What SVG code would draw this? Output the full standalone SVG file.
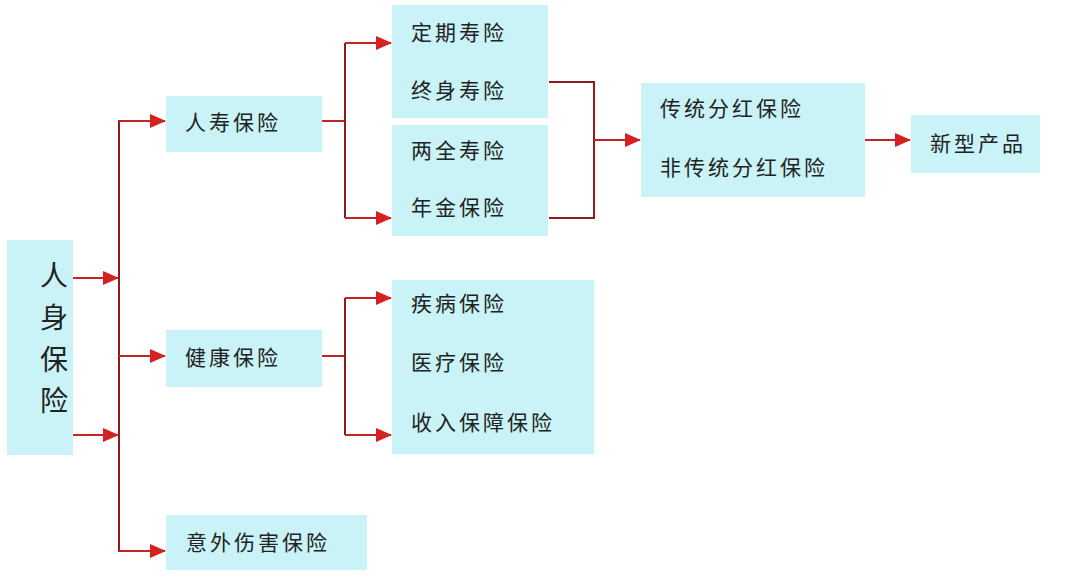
<svg xmlns="http://www.w3.org/2000/svg" width="1080" height="577" viewBox="0 0 1080 577">
<defs>
<style>
.box{fill:#c9f3f7}
.t{font-family:"Noto Sans CJK SC","Noto Sans",sans-serif;font-size:21px;fill:#222;letter-spacing:3px}
.big{font-family:"Noto Sans CJK SC","Noto Sans",sans-serif;font-size:28px;fill:#222}
.ln{fill:none;stroke:#8e1c1c;stroke-width:2}
.ar{fill:none;stroke:#c42424;stroke-width:2}
</style>
<marker id="ah" markerUnits="userSpaceOnUse" markerWidth="16" markerHeight="14" refX="15" refY="7" orient="auto">
<path d="M0,0 L16,7 L0,14 Z" fill="#d42222"/>
</marker>
</defs>
<rect width="1080" height="577" fill="#ffffff"/>
<g id="n-renshen"><rect class="box" x="7" y="240" width="66" height="215"/>
<text class="big" x="54" y="286" text-anchor="middle">人</text>
<text class="big" x="54" y="328" text-anchor="middle">身</text>
<text class="big" x="54" y="370" text-anchor="middle">保</text>
<text class="big" x="54" y="411" text-anchor="middle">险</text></g>
<g id="n-renshou"><rect class="box" x="166" y="96" width="156" height="56"/><text class="t" x="185" y="130">人寿保险</text></g>
<g id="n-jiankang"><rect class="box" x="166" y="330" width="156" height="57"/><text class="t" x="185" y="365">健康保险</text></g>
<g id="n-yiwai"><rect class="box" x="166" y="515" width="201" height="55"/><text class="t" x="186" y="550">意外伤害保险</text></g>
<g id="n-dingqi"><rect class="box" x="392" y="5" width="156" height="113"/><text class="t" x="411" y="40">定期寿险</text><text class="t" x="411" y="98">终身寿险</text></g>
<g id="n-liangquan"><rect class="box" x="392" y="125" width="156" height="111"/><text class="t" x="411" y="158">两全寿险</text><text class="t" x="411" y="215">年金保险</text></g>
<g id="n-fenhong"><rect class="box" x="641" y="83" width="224" height="114"/><text class="t" x="660" y="116">传统分红保险</text><text class="t" x="660" y="175">非传统分红保险</text></g>
<g id="n-xinxing"><rect class="box" x="911" y="115" width="129" height="58"/><text class="t" x="930" y="151">新型产品</text></g>
<g id="n-jibing"><rect class="box" x="392" y="280" width="202" height="174"/><text class="t" x="411" y="311">疾病保险</text><text class="t" x="411" y="370">医疗保险</text><text class="t" x="411" y="430">收入保障保险</text></g>
<g id="connectors">
<path class="ln" d="M119,120 V552"/>
<path class="ar" d="M73,278 H118" marker-end="url(#ah)"/>
<path class="ar" d="M73,435 H118" marker-end="url(#ah)"/>
<path class="ar" d="M119,121 H165" marker-end="url(#ah)"/>
<path class="ar" d="M119,356 H165" marker-end="url(#ah)"/>
<path class="ar" d="M119,551 H165" marker-end="url(#ah)"/>
<path class="ar" d="M322,121 H345"/>
<path class="ln" d="M345,43 V218"/>
<path class="ar" d="M345,43 H391" marker-end="url(#ah)"/>
<path class="ar" d="M345,218 H391" marker-end="url(#ah)"/>
<path class="ln" d="M549,82 H594 V218 H549"/>
<path class="ar" d="M594,140 H640" marker-end="url(#ah)"/>
<path class="ar" d="M865,140 H910" marker-end="url(#ah)"/>
<path class="ar" d="M322,356 H345"/>
<path class="ln" d="M345,298 V435"/>
<path class="ar" d="M345,298 H391" marker-end="url(#ah)"/>
<path class="ar" d="M345,435 H391" marker-end="url(#ah)"/>
</g>
</svg>
